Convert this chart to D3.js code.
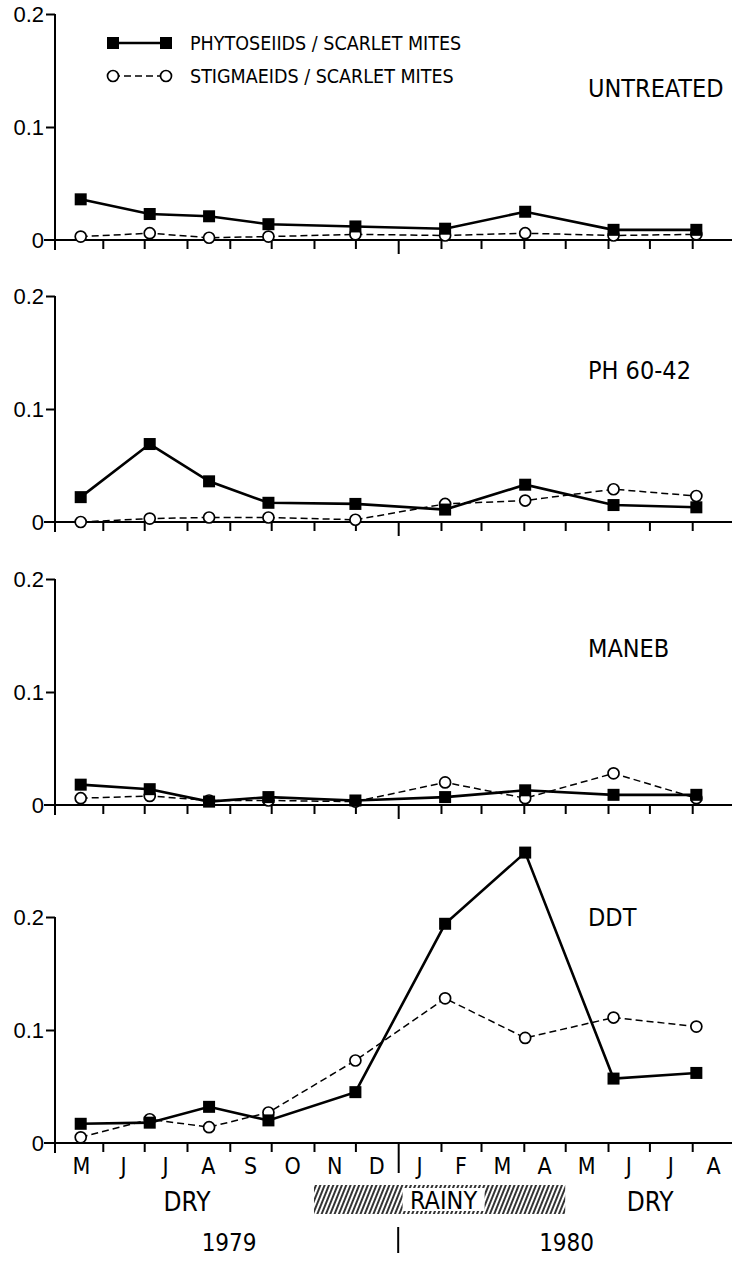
<!DOCTYPE html>
<html>
<head>
<meta charset="utf-8">
<script src="https://cdn.jsdelivr.net/npm/d3@7"></script>
<style>
  body { margin: 0; background: #fff; }
  svg { display: block; font-family: "DejaVu Sans Condensed", "Liberation Sans Narrow", Roboto, sans-serif; }
</style>
</head>
<body>
<div id="chart"></div>
<script>
// sampling dates (same for every treatment)
const sampleDates = ["1979-05-16", "1979-07-05", "1979-08-17", "1979-09-29", "1979-12-01",
                     "1980-02-04", "1980-04-02", "1980-06-05", "1980-08-04"];

const treatments = ["UNTREATED", "PH 60-42", "MANEB", "DDT"];

// ratio of predators to scarlet mites
const untreatedPhyto = [0.036, 0.023, 0.021, 0.014, 0.012, 0.010, 0.025, 0.009, 0.009];
const untreatedStig  = [0.003, 0.006, 0.002, 0.003, 0.005, 0.004, 0.006, 0.004, 0.005];
const ph6042Phyto    = [0.022, 0.069, 0.036, 0.017, 0.016, 0.011, 0.033, 0.015, 0.013];
const ph6042Stig     = [0.000, 0.003, 0.004, 0.004, 0.002, 0.016, 0.019, 0.029, 0.023];
const manebPhyto     = [0.018, 0.014, 0.003, 0.007, 0.004, 0.007, 0.013, 0.009, 0.009];
const manebStig      = [0.006, 0.008, 0.004, 0.004, 0.003, 0.020, 0.006, 0.028, 0.006];
const ddtPhyto       = [0.017, 0.018, 0.032, 0.020, 0.045, 0.194, 0.257, 0.057, 0.062];
const ddtStig        = [0.005, 0.021, 0.014, 0.027, 0.073, 0.128, 0.093, 0.111, 0.103];

const yTicks = [0, 0.1, 0.2];
const legendLabels = ["PHYTOSEIIDS / SCARLET MITES", "STIGMAEIDS / SCARLET MITES"];

// seasons along the bottom
const rainySeason = ["1979-11-01", "1980-05-01"];
const drySeasons = [["1979-05-01", "1979-11-01"], ["1980-05-01", "1980-09-01"]];
const years = [["1979", "1979-05-01", "1980-01-01"], ["1980", "1980-01-01", "1980-09-01"]];

const width = 732, height = 1263;
const parse = d3.timeParse("%Y-%m-%d");
const start = parse("1979-05-01"), end = parse("1980-09-01");

const svg = d3.select("#chart").append("svg")
  .attr("width", width)
  .attr("height", height);

const x = d3.scaleTime().domain([start, end]).range([60, 735]);
const axisLeftX = 55;

// zero line of each panel
const panelBase = [240, 522, 805, 1143];
const pxPerUnit = 1130;

const seriesByPanel = [
  [untreatedPhyto, untreatedStig],
  [ph6042Phyto, ph6042Stig],
  [manebPhyto, manebStig],
  [ddtPhyto, ddtStig],
];

const dates = sampleDates.map(parse);

function drawSquare(g, cx, cy) {
  g.append("rect")
    .attr("x", cx - 6).attr("y", cy - 6)
    .attr("width", 12).attr("height", 12)
    .attr("fill", "#000");
}

function drawCircle(g, cx, cy) {
  g.append("circle")
    .attr("cx", cx).attr("cy", cy).attr("r", 5.5)
    .attr("fill", "#fff").attr("stroke", "#000").attr("stroke-width", 1.7);
}

treatments.forEach((name, i) => {
  const base = panelBase[i];
  const y = d3.scaleLinear().domain([0, 0.2]).range([base, base - 0.2 * pxPerUnit]);
  const g = svg.append("g");

  // y axis
  const yAxis = g.append("g")
    .attr("transform", `translate(${axisLeftX},0)`)
    .call(d3.axisLeft(y).tickValues(yTicks).tickSize(9).tickPadding(2)
      .tickFormat(d => d === 0 ? "0" : d3.format(".1f")(d)));
  yAxis.select(".domain").remove();
  yAxis.selectAll(".tick line").attr("stroke-width", 2).filter(d => d === 0).remove();
  yAxis.selectAll(".tick text")
    .attr("font-size", 22)
    .attr("font-family", null)
    .attr("fill", "#000");
  g.append("line")
    .attr("x1", axisLeftX).attr("x2", axisLeftX)
    .attr("y1", y(0.2)).attr("y2", base + 10)
    .attr("stroke", "#000").attr("stroke-width", 2);

  // x axis with month ticks
  const xAxis = g.append("g")
    .attr("transform", `translate(0,${base})`)
    .call(d3.axisBottom(x).ticks(d3.timeMonth.every(1)).tickSize(9).tickFormat(""));
  xAxis.select(".domain").remove();
  xAxis.selectAll(".tick")
    .filter(d => +d === +start)
    .remove();
  xAxis.selectAll(".tick line")
    .attr("stroke-width", 2)
    .attr("y2", d => d.getMonth() === 0 ? (i === 3 ? 30 : 14) : 9);
  g.append("line")
    .attr("x1", 44).attr("x2", width)
    .attr("y1", base).attr("y2", base)
    .attr("stroke", "#000").attr("stroke-width", 2);

  const [phyto, stig] = seriesByPanel[i];
  const phytoData = dates.map((d, k) => ({ date: d, v: phyto[k] }));
  const stigData = dates.map((d, k) => ({ date: d, v: stig[k] }));
  const line = d3.line().x(d => x(d.date)).y(d => y(d.v));

  g.append("path")
    .datum(stigData)
    .attr("d", line)
    .attr("fill", "none")
    .attr("stroke", "#000")
    .attr("stroke-width", 1.5)
    .attr("stroke-dasharray", "7 4");

  g.append("path")
    .datum(phytoData)
    .attr("d", line)
    .attr("fill", "none")
    .attr("stroke", "#000")
    .attr("stroke-width", 2.6);

  stigData.forEach(d => drawCircle(g, x(d.date), y(d.v)));
  phytoData.forEach(d => drawSquare(g, x(d.date), y(d.v)));

  // treatment name
  const labelY = [88, 370, 648, 917][i];
  g.append("text")
    .attr("x", 588)
    .attr("y", labelY)
    .attr("dominant-baseline", "central")
    .attr("font-size", 25)
    .text(name);
});

// legend
const legend = svg.append("g");
legendLabels.forEach((label, k) => {
  const ly = 43 + k * 33;
  legend.append("line")
    .attr("x1", 113).attr("x2", 166)
    .attr("y1", ly).attr("y2", ly)
    .attr("stroke", "#000")
    .attr("stroke-width", k === 0 ? 2.6 : 1.5)
    .attr("stroke-dasharray", k === 0 ? null : "7 4");
  if (k === 0) {
    drawSquare(legend, 113, ly);
    drawSquare(legend, 166, ly);
  } else {
    drawCircle(legend, 113, ly);
    drawCircle(legend, 166, ly);
  }
  legend.append("text")
    .attr("x", 190)
    .attr("y", ly)
    .attr("dominant-baseline", "central")
    .attr("font-size", 19.5)
    .text(label);
});

// month letters under the last panel
const monthFmt = d3.timeFormat("%b");
const months = d3.timeMonth.range(start, end);
svg.append("g")
  .selectAll("text")
  .data(months)
  .join("text")
  .attr("x", d => (x(d) + x(d3.timeMonth.offset(d, 1))) / 2)
  .attr("y", 1166)
  .attr("text-anchor", "middle")
  .attr("dominant-baseline", "central")
  .attr("font-size", 23)
  .text(d => monthFmt(d)[0]);

// rainy season bar
const defs = svg.append("defs");
const hatch = defs.append("pattern")
  .attr("id", "hatch")
  .attr("patternUnits", "userSpaceOnUse")
  .attr("width", 4)
  .attr("height", 10)
  .attr("patternTransform", "rotate(22)");
hatch.append("line")
  .attr("x1", 1).attr("x2", 1)
  .attr("y1", 0).attr("y2", 10)
  .attr("stroke", "#000")
  .attr("stroke-width", 1.6);

const rx0 = x(parse(rainySeason[0])), rx1 = x(parse(rainySeason[1]));
svg.append("rect")
  .attr("x", rx0).attr("y", 1185)
  .attr("width", rx1 - rx0).attr("height", 29)
  .attr("fill", "url(#hatch)");
svg.append("rect")
  .attr("x", (rx0 + rx1) / 2 - 37).attr("y", 1188)
  .attr("width", 82).attr("height", 23)
  .attr("fill", "#fff");
svg.append("text")
  .attr("x", (rx0 + rx1) / 2 + 4)
  .attr("y", 1200)
  .attr("text-anchor", "middle")
  .attr("dominant-baseline", "central")
  .attr("font-size", 25)
  .text("RAINY");

drySeasons.forEach(([a, b]) => {
  svg.append("text")
    .attr("x", (x(parse(a)) + x(parse(b))) / 2)
    .attr("y", 1202)
    .attr("text-anchor", "middle")
    .attr("dominant-baseline", "central")
    .attr("font-size", 26)
    .text("DRY");
});

years.forEach(([label, a, b]) => {
  svg.append("text")
    .attr("x", (x(parse(a)) + x(parse(b))) / 2)
    .attr("y", 1243)
    .attr("text-anchor", "middle")
    .attr("dominant-baseline", "central")
    .attr("font-size", 24)
    .text(label);
});

// year divider
const newYear = x(parse("1980-01-01"));
svg.append("line")
  .attr("x1", newYear).attr("x2", newYear)
  .attr("y1", 1227).attr("y2", 1253)
  .attr("stroke", "#000")
  .attr("stroke-width", 2);
</script>
</body>
</html>
